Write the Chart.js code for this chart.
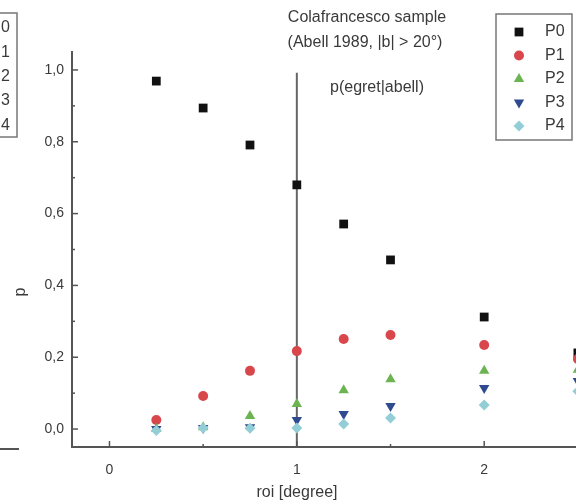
<!DOCTYPE html>
<html>
<head>
<meta charset="utf-8">
<script src="https://cdn.jsdelivr.net/npm/chart.js@4.4.0/dist/chart.umd.min.js"></script>
<style>
  html, body { margin: 0; padding: 0; background: #fff; }
</style>
</head>
<body>
<canvas id="roiChart" width="576" height="504"></canvas>
<script>
// ---------------------------
// Data
// ---------------------------
const roi = [0.25, 0.5, 0.75, 1.0, 1.25, 1.5, 2.0, 2.5];
const p0 = [0.969, 0.894, 0.791, 0.680, 0.571, 0.471, 0.312, 0.212];
const p1 = [0.025, 0.092, 0.162, 0.217, 0.251, 0.262, 0.234, 0.195];
const p2 = [0.000, 0.005, 0.036, 0.070, 0.108, 0.139, 0.162, 0.165];
const p3 = [0.000, 0.003, 0.005, 0.025, 0.042, 0.064, 0.114, 0.134];
const p4 = [-0.004, 0.003, 0.002, 0.003, 0.014, 0.031, 0.067, 0.105];

const seriesNames = ['P0', 'P1', 'P2', 'P3', 'P4'];
const xTicks = [0, 1, 2];
const yTicks = [0, 0.2, 0.4, 0.6, 0.8, 1.0];
const markerLine = [[1, -0.05], [1, 0.992]]; // p(egret|abell) at roi = 1

const styles = [
    { color: '#111111', shape: 'rect', radius: 6.2, rotation: 0 },
    { color: '#d8474c', shape: 'circle', radius: 5, rotation: 0 },
    { color: '#6cb352', shape: 'triangle', radius: 6, rotation: 0 },
    { color: '#2f4a8e', shape: 'triangle', radius: 6, rotation: 180 },
    { color: '#93cdd6', shape: 'rectRot', radius: 5.5, rotation: 0 }
];

const allSeries = [p0, p1, p2, p3, p4];
const comma = v => v.toFixed(1).replace('.', ',');

// ---------------------------
// Extra drawing: ticks, texts, legend box
// ---------------------------
function drawMarker(ctx, st, x, y) {
    ctx.save();
    ctx.fillStyle = st.color;
    ctx.beginPath();
    const r = st.radius;
    if (st.shape === 'rect') {
        const s = r * Math.SQRT1_2;
        ctx.rect(x - s, y - s, 2 * s, 2 * s);
    } else if (st.shape === 'circle') {
        ctx.arc(x, y, r, 0, Math.PI * 2);
    } else if (st.shape === 'triangle') {
        const dir = st.rotation ? -1 : 1;
        ctx.moveTo(x, y - dir * r);
        ctx.lineTo(x + r * 0.866, y + dir * r * 0.5);
        ctx.lineTo(x - r * 0.866, y + dir * r * 0.5);
        ctx.closePath();
    } else {
        ctx.moveTo(x, y - r);
        ctx.lineTo(x + r, y);
        ctx.lineTo(x, y + r);
        ctx.lineTo(x - r, y);
        ctx.closePath();
    }
    ctx.fill();
    ctx.restore();
}

const decorations = {
    id: 'decorations',
    afterDraw(chart) {
        const ctx = chart.ctx;
        const xs = chart.scales.x;
        const ys = chart.scales.y;
        const area = chart.chartArea;
        ctx.save();

        // inward tick marks
        ctx.strokeStyle = '#555';
        ctx.lineWidth = 1.5;
        for (let v = 0; v <= 1.0001; v += 0.1) {
            const py = ys.getPixelForValue(v);
            const major = Math.round(v * 10) % 2 === 0;
            ctx.beginPath();
            ctx.moveTo(area.left, py);
            ctx.lineTo(area.left + (major ? 6 : 3), py);
            ctx.stroke();
        }
        for (let v = 0; v <= 2.5; v += 0.5) {
            const px = xs.getPixelForValue(v);
            const major = v % 1 === 0;
            ctx.beginPath();
            ctx.moveTo(px, area.bottom);
            ctx.lineTo(px, area.bottom - (major ? 6 : 3));
            ctx.stroke();
        }

        ctx.fillStyle = '#3a3a3a';
        ctx.font = '16px "Liberation Sans", Arial, sans-serif';
        ctx.textBaseline = 'middle';

        // title block
        ctx.textAlign = 'center';
        ctx.fillText('Colafrancesco sample', 367, 18);
        ctx.fillText('(Abell 1989, |b| > 20°)', 365, 43);

        // line label
        ctx.textAlign = 'left';
        ctx.fillText('p(egret|abell)', 330, 88);

        // axis titles
        ctx.textAlign = 'center';
        ctx.fillText('roi [degree]', 297, 493);
        ctx.save();
        ctx.translate(21, 292);
        ctx.rotate(-Math.PI / 2);
        ctx.fillText('p', 0, 0);
        ctx.restore();

        // legend box
        ctx.strokeStyle = '#777';
        ctx.lineWidth = 1.5;
        ctx.strokeRect(496, 14, 76, 126);
        ctx.textAlign = 'left';
        seriesNames.forEach((name, i) => {
            const y = 32 + i * 23.5;
            drawMarker(ctx, styles[i], 519, y);
            ctx.fillStyle = '#3a3a3a';
            ctx.fillText(name, 545, y);
        });

        // neighbouring panel, cut off at the left (only the digits show)
        ctx.strokeRect(-80, 13, 97, 124);
        ctx.textAlign = 'right';
        seriesNames.forEach((name, i) => {
            ctx.fillText(name.slice(1), 10, 28 + i * 24.3);
        });
        ctx.strokeStyle = '#555';
        ctx.lineWidth = 2;
        ctx.beginPath();
        ctx.moveTo(0, 449);
        ctx.lineTo(19, 449);
        ctx.stroke();

        ctx.restore();
    }
};

// ---------------------------
// Chart
// ---------------------------
const datasets = [{
    type: 'line',
    data: markerLine.map(([x, y]) => ({ x, y })),
    borderColor: '#666',
    borderWidth: 2,
    pointRadius: 0,
    showLine: true,
    order: 10
}];

allSeries.forEach((vals, i) => {
    datasets.push({
        label: seriesNames[i],
        data: roi.map((x, k) => ({ x, y: vals[k] })),
        pointStyle: styles[i].shape,
        pointRadius: styles[i].radius,
        rotation: styles[i].rotation,
        backgroundColor: styles[i].color,
        borderColor: styles[i].color,
        borderWidth: 0,
        order: 5 - i
    });
});

const ctx = document.getElementById('roiChart').getContext('2d');
const roiChart = new Chart(ctx, {
    type: 'scatter',
    data: { datasets: datasets },
    options: {
        responsive: false,
        animation: false,
        devicePixelRatio: 1,
        layout: {
            autoPadding: false,
            padding: { top: 52, right: 0, bottom: 0, left: 0 }
        },
        plugins: {
            legend: { display: false },
            tooltip: { enabled: false }
        },
        scales: {
            x: {
                type: 'linear',
                min: -0.2,
                max: 2.49,
                grid: { display: false, drawTicks: false },
                border: { display: true, color: '#555', width: 2 },
                afterBuildTicks: s => { s.ticks = xTicks.map(v => ({ value: v })); },
                afterFit: s => { s.height = 57; },
                ticks: {
                    padding: 15,
                    color: '#3a3a3a',
                    font: { family: '"Liberation Sans", Arial, sans-serif', size: 14 },
                    callback: v => String(v)
                }
            },
            y: {
                type: 'linear',
                min: -0.05,
                max: 1.05,
                grid: { display: false, drawTicks: false },
                border: { display: true, color: '#555', width: 2 },
                afterBuildTicks: s => { s.ticks = yTicks.map(v => ({ value: v })); },
                afterFit: s => { s.width = 72; },
                ticks: {
                    padding: 8,
                    color: '#3a3a3a',
                    font: { family: '"Liberation Sans", Arial, sans-serif', size: 14 },
                    callback: v => comma(v)
                }
            }
        }
    },
    plugins: [decorations]
});
</script>
</body>
</html>
